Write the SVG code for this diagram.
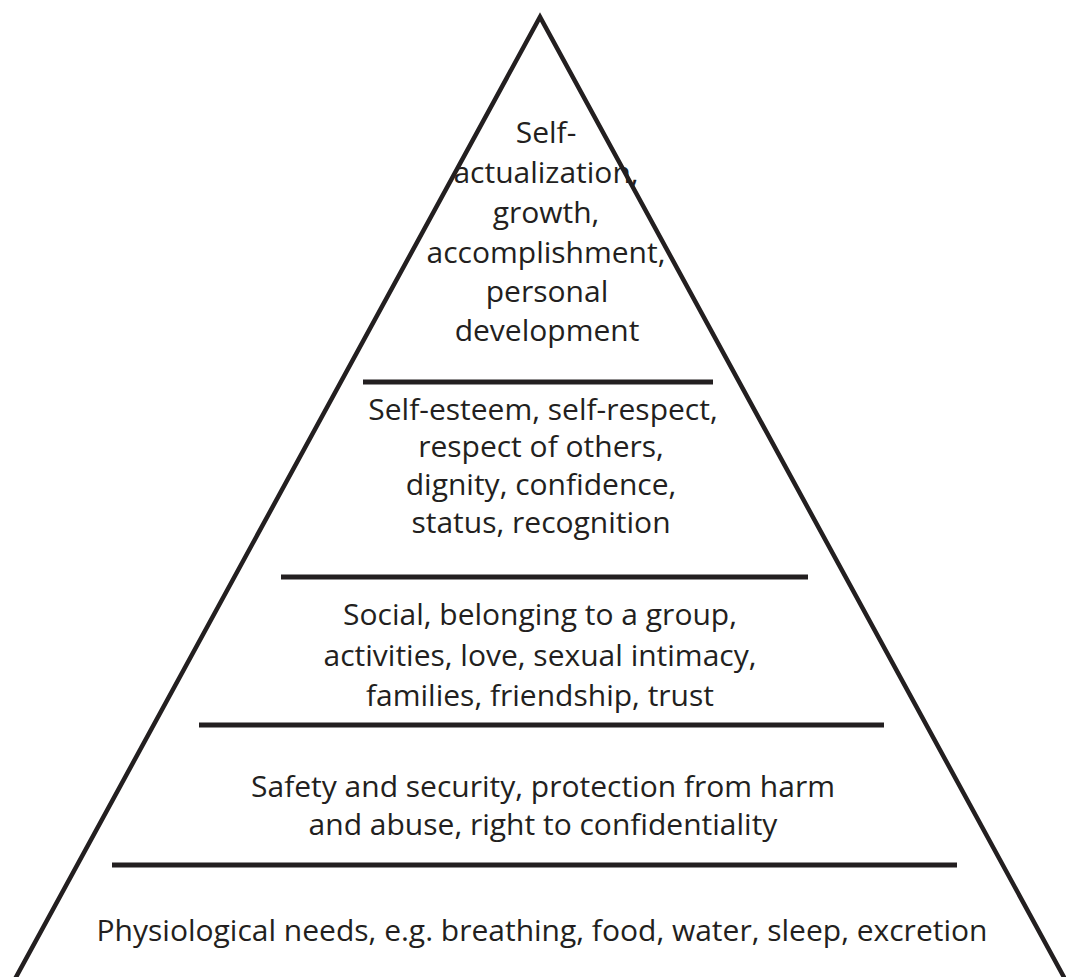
<svg xmlns="http://www.w3.org/2000/svg" width="1066" height="977" viewBox="0 0 1066 977">
  <style>
    .edge { fill: none; stroke: #231f20; stroke-width: 4.5; stroke-linejoin: miter; stroke-miterlimit: 10; }
    .divider { stroke: #231f20; stroke-width: 5; }
    .label { font-family: "Open Sans", "Liberation Sans", sans-serif; font-size: 30px; fill: #231f20; text-anchor: middle; }
  </style>
  <defs>
    <linearGradient id="baseFade" x1="0" y1="0" x2="1" y2="0">
      <stop offset="0" stop-color="#ffffff"/>
      <stop offset="0.5" stop-color="#8a8a8a"/>
      <stop offset="1" stop-color="#ffffff"/>
    </linearGradient>
  </defs>
  <rect width="1066" height="977" fill="#ffffff"/>

  <!-- pyramid outline and tier dividers -->
  <g id="pyramid-frame">
    <path class="edge" d="M 15 979 L 540 17 L 1065 979"/>
    <line x1="175" y1="976.5" x2="905" y2="976.5" stroke="url(#baseFade)" stroke-width="1.2"/>
    <line class="divider" x1="363" y1="382" x2="713" y2="382"/>
    <line class="divider" x1="281" y1="577" x2="808" y2="577"/>
    <line class="divider" x1="199" y1="725" x2="884" y2="725"/>
    <line class="divider" x1="112" y1="865" x2="957" y2="865"/>
  </g>

  <!-- connectors: none in this figure -->
  <g id="connectors"/>

  <g id="tier-self-actualization">
    <text class="label" x="546" y="143">Self-</text>
    <text class="label" x="546" y="183">actualization,</text>
    <text class="label" x="546" y="223">growth,</text>
    <text class="label" x="546" y="263">accomplishment,</text>
    <text class="label" x="547" y="302">personal</text>
    <text class="label" x="547" y="341">development</text>
  </g>

  <g id="tier-esteem">
    <text class="label" x="543" y="420">Self-esteem, self-respect,</text>
    <text class="label" x="541" y="457">respect of others,</text>
    <text class="label" x="541" y="495">dignity, confidence,</text>
    <text class="label" x="541" y="533">status, recognition</text>
  </g>

  <g id="tier-social">
    <text class="label" x="540" y="625">Social, belonging to a group,</text>
    <text class="label" x="540" y="666">activities, love, sexual intimacy,</text>
    <text class="label" x="540" y="706">families, friendship, trust</text>
  </g>

  <g id="tier-safety">
    <text class="label" x="543" y="797">Safety and security, protection from harm</text>
    <text class="label" x="543" y="835">and abuse, right to confidentiality</text>
  </g>

  <g id="tier-physiological">
    <text class="label" x="542" y="941">Physiological needs, e.g. breathing, food, water, sleep, excretion</text>
  </g>
</svg>
